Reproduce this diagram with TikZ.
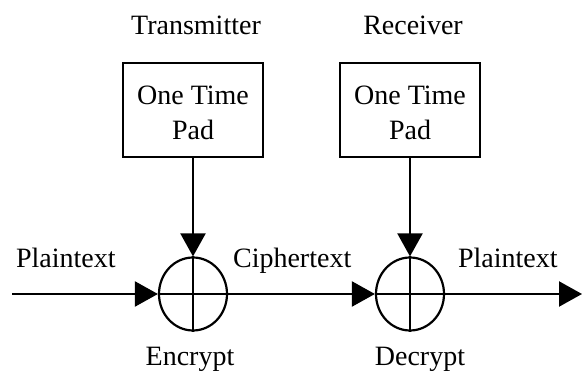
\documentclass[tikz,border=0pt]{standalone}
\usepackage{fontspec}
\setmainfont{Liberation Serif}
\usetikzlibrary{arrows.meta,shapes.geometric}

\tikzset{every picture/.style={line width=2.2pt}}
\tikzset{
  padbox/.style={draw, minimum width=140, minimum height=94, align=center, inner sep=0pt,
    text height=64pt, text depth=4pt, font=\fontsize{28}{35}\selectfont},
  xorop/.style={draw, ellipse, minimum width=68, minimum height=73, inner sep=0pt},
  flow/.style={-{Triangle[length=23pt,width=25pt]}},
  lbl/.style={inner sep=0pt, font=\fontsize{28}{35}\selectfont}
}

\begin{document}
\begin{tikzpicture}[x=1pt,y=1pt,yscale=-1,xscale=1]
        \useasboundingbox (0,0) rectangle (582,374);

        %Shape: Rectangle [pads]
        \node [padbox] (padT) at (193,110) {One Time\\Pad};
        \node [padbox] (padR) at (410,110) {One Time\\Pad};
        %Shape: Ellipse [xor]
        \node [xorop] (enc) at (193,294) {};
        \node [xorop] (dec) at (410,294) {};
        \draw (enc.north) -- (enc.south) (enc.west) -- (enc.east);
        \draw (dec.north) -- (dec.south) (dec.west) -- (dec.east);

        %Straight Lines [data path]
        \coordinate (src) at (12,294);
        \coordinate (dst) at (582,294);
        \draw [flow] (src) -- (enc.west);
        \draw [flow] (enc.east) -- (dec.west);
        \draw [flow] (dec.east) -- (dst);
        %Straight Lines [key]
        \draw [flow] (padT.south) -- (enc.north);
        \draw [flow] (padR.south) -- (dec.north);

        % Text Node
        \node [lbl, anchor=base] (tx) at (196,35) {Transmitter};
        % Text Node
        \node [lbl, anchor=base] (rx) at (413,35) {Receiver};
        % Text Node
        \node [lbl, anchor=base west] (ptIn) at (15,268) {Plaintext};
        % Text Node
        \node [lbl, anchor=base west] (ct) at (232,268) {Ciphertext};
        % Text Node
        \node [lbl, anchor=base west] (ptOut) at (457,268) {Plaintext};
        % Text Node
        \node [lbl, anchor=base] (encLbl) at (190,366) {Encrypt};
        % Text Node
        \node [lbl, anchor=base] (decLbl) at (420,366) {Decrypt};

\end{tikzpicture}
\end{document}
